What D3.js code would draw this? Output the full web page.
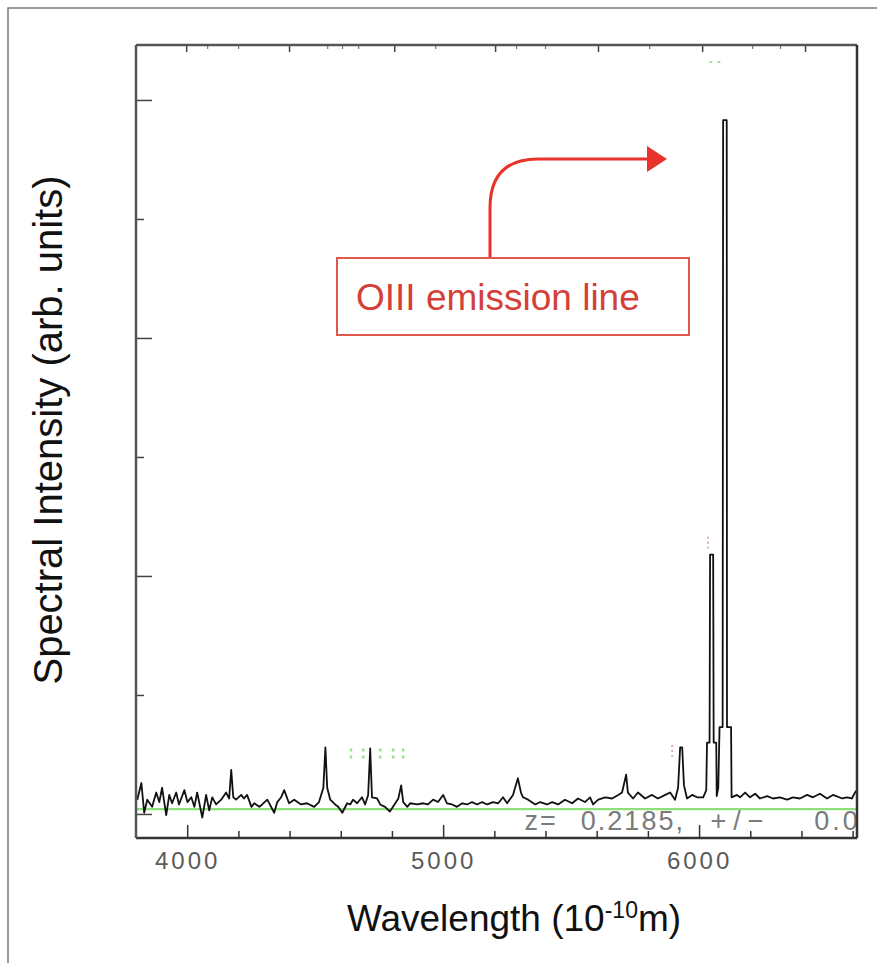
<!DOCTYPE html>
<html>
<head>
<meta charset="utf-8">
<title>OIII emission line</title>
<script src="https://d3js.org/d3.v7.min.js"></script>
<style>
  body { margin: 0; background: #fff; }
  svg text { font-family: "Liberation Sans", Arial, sans-serif; }
</style>
</head>
<body>
<svg id="chart"></svg>
<script>
  var width = 877;
  var height = 963;

  // observed wavelength (Angstrom), intensity (arb. units)
  var spectrum = [
    [3805, 0.12], [3821, 0.26], [3832, 0.01], [3844, 0.12], [3863, 0.06], [3879, 0.18],
    [3891, 0.10], [3902, 0.22], [3918, -0.01], [3930, 0.16], [3941, 0.09], [3957, 0.18],
    [3968, 0.08], [3989, 0.20], [4001, 0.10], [4016, 0.14], [4028, 0.06], [4039, 0.18],
    [4059, -0.03], [4074, 0.16], [4086, 0.03], [4098, 0.14], [4113, 0.08], [4133, 0.12],
    [4152, 0.18], [4164, 0.13], [4172, 0.37], [4180, 0.14], [4191, 0.12], [4211, 0.16],
    [4222, 0.13], [4234, 0.16], [4251, 0.06], [4262, 0.09], [4282, 0.06], [4293, 0.08],
    [4313, 0.12], [4340, 0.01], [4352, 0.10], [4367, 0.14], [4379, 0.20], [4398, 0.09],
    [4418, 0.12], [4445, 0.08], [4468, 0.09], [4496, 0.06], [4515, 0.10], [4532, 0.22],
    [4540, 0.56], [4547, 0.22], [4559, 0.12], [4578, 0.08], [4590, 0.06], [4606, 0.01],
    [4625, 0.09], [4637, 0.08], [4648, 0.12], [4664, 0.09], [4683, 0.14], [4695, 0.08],
    [4707, 0.16], [4715, 0.55], [4722, 0.14], [4742, 0.13], [4754, 0.08], [4773, 0.06],
    [4792, 0.02], [4813, 0.09], [4825, 0.13], [4836, 0.24], [4844, 0.10], [4860, 0.06],
    [4871, 0.09], [4899, 0.08], [4922, 0.09], [4941, 0.08], [4961, 0.12], [4980, 0.10],
    [5000, 0.16], [5015, 0.09], [5035, 0.08], [5054, 0.06], [5075, 0.09], [5094, 0.08],
    [5113, 0.10], [5133, 0.08], [5152, 0.10], [5172, 0.08], [5195, 0.10], [5215, 0.09],
    [5234, 0.14], [5250, 0.09], [5273, 0.16], [5292, 0.30], [5304, 0.18], [5312, 0.14],
    [5332, 0.12], [5360, 0.08], [5379, 0.10], [5406, 0.08], [5426, 0.10], [5449, 0.08],
    [5476, 0.12], [5504, 0.09], [5527, 0.13], [5554, 0.10], [5574, 0.14], [5586, 0.08],
    [5606, 0.12], [5633, 0.14], [5660, 0.13], [5684, 0.16], [5699, 0.18], [5715, 0.33],
    [5722, 0.18], [5742, 0.13], [5761, 0.18], [5789, 0.13], [5816, 0.16], [5839, 0.13],
    [5868, 0.16], [5887, 0.18], [5906, 0.12], [5918, 0.22], [5926, 0.56], [5934, 0.56],
    [5941, 0.24], [5953, 0.13], [5973, 0.16], [5992, 0.14], [6016, 0.14], [6028, 0.20],
    [6031, 0.60], [6041, 0.60], [6043, 2.18], [6055, 2.18], [6057, 0.60], [6067, 0.60],
    [6069, 0.15], [6075, 0.22], [6080, 0.73], [6092, 0.73], [6094, 5.83], [6108, 5.83],
    [6109, 0.73], [6125, 0.73], [6127, 0.14], [6148, 0.16], [6160, 0.14], [6180, 0.18],
    [6199, 0.14], [6219, 0.17], [6238, 0.13], [6266, 0.15], [6289, 0.13], [6316, 0.14],
    [6344, 0.12], [6367, 0.14], [6394, 0.13], [6422, 0.16], [6445, 0.14], [6472, 0.17],
    [6500, 0.13], [6523, 0.16], [6560, 0.13], [6578, 0.14], [6597, 0.13], [6609, 0.18],
    [6617, 0.20]
  ];

  // continuum fit (green)
  var continuum = [[3800, 0.04], [6617, 0.04]];

  var xMajorTicks = [4000, 5000, 6000];
  var xMinorTicks = [4200, 4400, 4600, 4800, 5200, 5400, 5600, 5800, 6200, 6400, 6600];
  var yMajorTicks = [0, 2, 4, 6];
  var yMinorTicks = [1, 3, 5];
  var topMajorTicks = [3996, 4398, 4809, 5203, 5605, 6012, 6414];
  var topMinorTicks = [4078, 4199, 4547, 4605, 4668, 4969, 5285, 5398, 5805, 6207, 6316];

  // line id markers
  var greenMarks = [4640, 4688, 4754, 4805, 4844];
  var pinkMarks = [5895];

  // redshift label pieces and their wavelength anchors
  var redshiftParts = ["z=", "0.2185,", "+/\u2212", "0.0"];
  var redshiftAt = [5318, 5538, 6045, 6450];
  var redshiftSpacing = [2, 2, 7, 3];

  var svg = d3.select("#chart")
    .attr("width", width)
    .attr("height", height);

  var margin = { left: 136, right: 857, top: 45, bottom: 838 };

  var x = d3.scaleLinear().domain([3800, 6617]).range([margin.left, margin.right]);
  var y = d3.scaleLinear().domain([-0.202, 6.462]).range([margin.bottom, margin.top]);

  // outer frame
  svg.append("rect")
    .attr("x", 8).attr("y", 8)
    .attr("width", 900).attr("height", 1000)
    .attr("fill", "none")
    .attr("stroke", "#7a7a7a")
    .attr("stroke-width", 1.5);

  svg.append("clipPath").attr("id", "plotclip")
    .append("rect")
    .attr("x", margin.left).attr("y", margin.top)
    .attr("width", margin.right - margin.left)
    .attr("height", margin.bottom - margin.top);

  var plot = svg.append("g").attr("clip-path", "url(#plotclip)");

  // z label (gray, clipped at right axis)
  plot.selectAll(".zlabel")
    .data(redshiftParts)
    .enter()
    .append("text")
    .attr("class", "zlabel")
    .attr("x", (d, i) => x(redshiftAt[i]))
    .attr("y", 830)
    .attr("fill", "#7b7b7b")
    .style("font-size", "27px")
    .style("letter-spacing", (d, i) => redshiftSpacing[i] + "px")
    .text(d => d);

  // continuum
  var line = d3.line().x(d => x(d[0])).y(d => y(d[1]));

  plot.append("path")
    .datum(continuum)
    .attr("d", line)
    .attr("fill", "none")
    .attr("stroke", "#8ee07a")
    .attr("stroke-width", 2.2);

  // markers
  greenMarks.forEach(function(w) {
    plot.append("line")
      .attr("x1", x(w)).attr("x2", x(w))
      .attr("y1", y(0.55)).attr("y2", y(0.46))
      .attr("stroke", "#9be28d")
      .attr("stroke-width", 2.5)
      .attr("stroke-dasharray", "3,4");
  });
  pinkMarks.forEach(function(w) {
    plot.append("line")
      .attr("x1", x(w)).attr("x2", x(w))
      .attr("y1", y(0.58)).attr("y2", y(0.48))
      .attr("stroke", "#d8a8d0")
      .attr("stroke-width", 2)
      .attr("stroke-dasharray", "2,3");
  });
  plot.append("line")
    .attr("x1", x(6035)).attr("x2", x(6035))
    .attr("y1", y(2.33)).attr("y2", y(2.23))
    .attr("stroke", "#d8a8d0")
    .attr("stroke-width", 2)
    .attr("stroke-dasharray", "2,3");
  plot.append("line")
    .attr("x1", x(6040)).attr("x2", x(6100))
    .attr("y1", y(6.32)).attr("y2", y(6.32))
    .attr("stroke", "#a8e49a")
    .attr("stroke-width", 2)
    .attr("stroke-dasharray", "3,5");

  // spectrum
  plot.append("path")
    .datum(spectrum)
    .attr("d", line)
    .attr("fill", "none")
    .attr("stroke", "#111")
    .attr("stroke-width", 1.8)
    .attr("stroke-linejoin", "round");

  // axes: bottom
  var xAxis = svg.append("g").attr("transform", "translate(0," + margin.bottom + ")");
  xAxis.call(d3.axisBottom(x).tickValues(xMajorTicks).tickSize(-13).tickPadding(14).tickFormat(d3.format("d")));
  xAxis.call(g => g.select(".domain").remove());
  xAxis.selectAll("text")
    .attr("fill", "#5a5a5a")
    .style("font-size", "24px")
    .style("letter-spacing", "3px")
    .style("font-family", "Liberation Sans, Arial, sans-serif");
  xAxis.selectAll(".tick line").attr("stroke", "#333").attr("stroke-width", 1.5);
  svg.append("g").attr("transform", "translate(0," + margin.bottom + ")")
    .call(d3.axisBottom(x).tickValues(xMinorTicks).tickSize(-7).tickFormat(""))
    .call(g => g.select(".domain").remove())
    .selectAll(".tick line").attr("stroke", "#333").attr("stroke-width", 1.5);

  // top
  svg.append("g").attr("transform", "translate(0," + margin.top + ")")
    .call(d3.axisTop(x).tickValues(topMajorTicks).tickSize(-7).tickFormat(""))
    .call(g => g.select(".domain").remove())
    .selectAll(".tick line").attr("stroke", "#444").attr("stroke-width", 1.5);
  svg.append("g").attr("transform", "translate(0," + margin.top + ")")
    .call(d3.axisTop(x).tickValues(topMinorTicks).tickSize(-4).tickFormat(""))
    .call(g => g.select(".domain").remove())
    .selectAll(".tick line").attr("stroke", "#777").attr("stroke-width", 1.2);

  // left
  svg.append("g").attr("transform", "translate(" + margin.left + ",0)")
    .call(d3.axisLeft(y).tickValues(yMajorTicks).tickSize(-16).tickFormat(""))
    .call(g => g.select(".domain").remove())
    .selectAll(".tick line").attr("stroke", "#444").attr("stroke-width", 1.5);
  svg.append("g").attr("transform", "translate(" + margin.left + ",0)")
    .call(d3.axisLeft(y).tickValues(yMinorTicks).tickSize(-8).tickFormat(""))
    .call(g => g.select(".domain").remove())
    .selectAll(".tick line").attr("stroke", "#444").attr("stroke-width", 1.5);

  // frame
  svg.append("line").attr("x1", margin.left).attr("x2", margin.right)
    .attr("y1", margin.top).attr("y2", margin.top)
    .attr("stroke", "#555").attr("stroke-width", 2.5);
  svg.append("line").attr("x1", margin.left).attr("x2", margin.right)
    .attr("y1", margin.bottom).attr("y2", margin.bottom)
    .attr("stroke", "#333").attr("stroke-width", 2.5);
  svg.append("line").attr("x1", margin.left).attr("x2", margin.left)
    .attr("y1", margin.top).attr("y2", margin.bottom)
    .attr("stroke", "#555").attr("stroke-width", 2.5);
  svg.append("line").attr("x1", margin.right).attr("x2", margin.right)
    .attr("y1", margin.top).attr("y2", margin.bottom)
    .attr("stroke", "#333").attr("stroke-width", 2.5);

  // axis titles
  var xTitle = svg.append("text")
    .attr("x", 514)
    .attr("y", 931)
    .attr("text-anchor", "middle")
    .attr("fill", "#111")
    .style("font-size", "37px");
  xTitle.append("tspan").text("Wavelength (10");
  xTitle.append("tspan").attr("dy", -13).style("font-size", "23px").text("-10");
  xTitle.append("tspan").attr("dy", 13).text("m)");

  svg.append("text")
    .attr("transform", "translate(62,430) rotate(-90)")
    .attr("text-anchor", "middle")
    .attr("fill", "#111")
    .style("font-size", "40px")
    .text("Spectral Intensity (arb. units)");

  // annotation
  var red = "#e8332a";
  svg.append("path")
    .attr("d", "M490,258 V208 Q490,159 538,159 H650")
    .attr("fill", "none")
    .attr("stroke", red)
    .attr("stroke-width", 3);
  svg.append("path")
    .attr("d", "M647,146 L667,159 L647,172 Z")
    .attr("fill", red);
  svg.append("rect")
    .attr("x", 337).attr("y", 258)
    .attr("width", 352).attr("height", 77)
    .attr("fill", "#fff")
    .attr("stroke", "#e0574e")
    .attr("stroke-width", 2);
  svg.append("text")
    .attr("x", 356)
    .attr("y", 310)
    .attr("fill", "#d43f37")
    .style("font-size", "37px")
    .text("OIII emission line");
</script>
</body>
</html>
